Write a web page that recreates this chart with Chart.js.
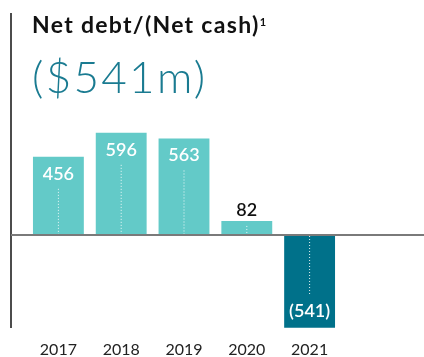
<!DOCTYPE html>
<html>
<head>
<meta charset="utf-8">
<script src="https://cdn.jsdelivr.net/npm/chart.js@4/dist/chart.umd.min.js"></script>
<style>
  html, body { margin: 0; padding: 0; background: #ffffff; }
  #wrap { position: relative; width: 424px; height: 357px; overflow: hidden; }
  #chart { position: absolute; left: 0; top: 0; }
  .title {
    position: absolute; left: 32px; top: 13px; margin: 0;
    font-family: Lato, "Open Sans", sans-serif; font-weight: 700;
    font-size: 23px; line-height: 23px; letter-spacing: 1.3px;
    color: #111; white-space: nowrap;
  }
  .title sup { font-size: 11px; vertical-align: 7px; line-height: 0; letter-spacing: 0; }
  .headline {
    position: absolute; left: 32px; top: 54px; margin: 0;
    font-family: Lato, "Open Sans", sans-serif; font-weight: 300;
    font-size: 44px; line-height: 44px; letter-spacing: 2.3px;
    color: #1a7b91; white-space: nowrap;
  }
</style>
</head>
<body>
<div id="wrap">
  <canvas id="chart" width="424" height="357"></canvas>
  <div class="title">Net debt/(Net cash)<sup>1</sup></div>
  <div class="headline">($541m)</div>
</div>
<script>
// Net debt / (net cash) by year, $m
const years = ['2017', '2018', '2019', '2020', '2021'];
const netDebt = [456, 596, 563, 82, -541];

const LIGHT = '#63cac8';
const DARK = '#00718a';

function formatValue(v) {
  return v < 0 ? '(' + Math.abs(v) + ')' : String(v);
}

// Frame: vertical rule on the left and the zero line across the plot
const framePlugin = {
  id: 'frame',
  afterDatasetsDraw(chart) {
    const ctx = chart.ctx;
    const y0 = chart.scales.y.getPixelForValue(0);
    ctx.save();
    ctx.strokeStyle = '#111';
    ctx.lineWidth = 1.5;
    ctx.beginPath();
    ctx.moveTo(11, 13);
    ctx.lineTo(11, 328);
    ctx.stroke();
    ctx.strokeStyle = '#7a7a7a';
    ctx.lineWidth = 2;
    ctx.beginPath();
    ctx.moveTo(11, y0);
    ctx.lineTo(chart.width, y0);
    ctx.stroke();
    ctx.restore();
  }
};

// Value labels plus the dotted leader from label to zero line
const valueLabels = {
  id: 'valueLabels',
  afterDatasetsDraw(chart) {
    const ctx = chart.ctx;
    const meta = chart.getDatasetMeta(0);
    const data = chart.data.datasets[0].data;
    const y0 = chart.scales.y.getPixelForValue(0);
    ctx.save();
    ctx.textAlign = 'center';
    ctx.textBaseline = 'middle';
    meta.data.forEach((bar, i) => {
      const v = data[i];
      const x = bar.x;
      const h = Math.abs(y0 - bar.y);
      const big = h > 40;
      // dotted leader
      ctx.strokeStyle = 'rgba(255,255,255,0.9)';
      ctx.lineWidth = 1;
      ctx.setLineDash([1, 2]);
      ctx.beginPath();
      if (v >= 0) {
        ctx.moveTo(x, big ? bar.y + 32 : bar.y + 5);
        ctx.lineTo(x, y0 - 1);
      } else {
        ctx.moveTo(x, y0 + 1);
        ctx.lineTo(x, bar.y - 32);
      }
      ctx.stroke();
      ctx.setLineDash([]);
      // label
      ctx.font = '600 18px Lato, "Open Sans", sans-serif';
      if (!big) {
        ctx.fillStyle = '#111';
        ctx.fillText(formatValue(v), x, bar.y - 11);
      } else if (v >= 0) {
        ctx.fillStyle = '#ffffff';
        ctx.fillText(formatValue(v), x, bar.y + 17);
      } else {
        ctx.fillStyle = '#ffffff';
        ctx.fillText(formatValue(v), x, bar.y - 17);
      }
    });
    ctx.restore();
  }
};

new Chart(document.getElementById('chart'), {
  type: 'bar',
  data: {
    labels: years,
    datasets: [{
      data: netDebt,
      backgroundColor: (c) => (c.raw < 0 ? DARK : LIGHT),
      borderWidth: 0,
      barPercentage: 0.81,
      categoryPercentage: 1
    }]
  },
  options: {
    responsive: false,
    animation: false,
    devicePixelRatio: 1,
    layout: { padding: { left: 27, right: 83, top: 115, bottom: 0 } },
    plugins: { legend: { display: false }, tooltip: { enabled: false } },
    scales: {
      x: {
        grid: { display: false },
        border: { display: false },
        afterFit(scale) { scale.height = 26; },
        ticks: {
          padding: 3,
          color: '#222',
          font: { family: 'Lato, "Open Sans", sans-serif', size: 16, lineHeight: 1 }
        }
      },
      y: { display: false, min: -560, max: 700 }
    }
  },
  plugins: [framePlugin, valueLabels]
});
</script>
</body>
</html>
